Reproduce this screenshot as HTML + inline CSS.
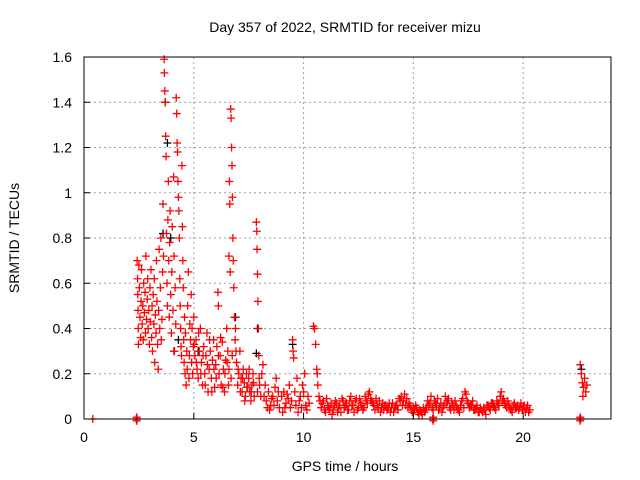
<!DOCTYPE html>
<html><head><meta charset="utf-8"><style>
body{margin:0;background:#fff;}
svg{display:block;font-family:"Liberation Sans",sans-serif;}
</style></head><body>
<svg id="chart" width="640" height="480" xmlns="http://www.w3.org/2000/svg">
<rect width="640" height="480" fill="#fff"/>
<g id="grid"></g>
<g id="marks"></g>
<rect x="84" y="57" width="527" height="362" fill="none" stroke="#000" stroke-width="1"/>
<g id="axes"></g>
<text x="345" y="32" text-anchor="middle" font-size="14">Day 357 of 2022, SRMTID for receiver mizu</text>
<text x="345" y="471" text-anchor="middle" font-size="14">GPS time / hours</text>
<text x="19" y="238" text-anchor="middle" font-size="14" transform="rotate(-90 19 238)">SRMTID / TECUs</text>
</svg>
<script>
const xTicks=[0,5,10,15,20];
const yTicks=[0,0.2,0.4,0.6,0.8,1,1.2,1.4,1.6];
const yTickLabels=["0","0.2","0.4","0.6","0.8","1","1.2","1.4","1.6"];
const blackTimes=[3.7,3.6,3.95,4.3,7.9,7.85,9.5,22.65,4.1,6.9,3.8,5.2];
const blackValues=[1.40,0.82,0.80,0.35,0.40,0.29,0.33,0.22,0.30,0.45,1.22,0.30];
const redTimes=[2.42,2.44,2.45,2.46,2.47,2.48,2.5,2.52,2.55,2.58,2.6,2.62,2.65,2.68,2.7,2.72,2.75,2.78,2.8,2.82,2.85,2.88,2.9,2.92,2.95,2.98,
3.0,3.02,3.05,3.08,3.1,3.12,3.15,3.18,3.2,3.22,3.25,3.28,3.3,3.32,3.35,3.38,3.4,3.42,3.45,3.48,3.5,3.52,3.55,3.58,
3.6,3.62,3.65,3.66,3.68,3.7,3.72,3.74,3.76,3.78,3.8,3.82,3.84,3.86,3.88,3.9,3.92,3.95,3.98,4.0,4.02,4.05,4.08,4.1,4.12,4.15,4.18,
4.2,4.22,4.24,4.26,4.28,4.3,4.32,4.34,4.36,4.38,4.4,4.42,4.44,4.46,4.48,4.5,4.52,4.54,4.56,4.58,
4.6,4.62,4.65,4.68,4.7,4.72,4.75,4.78,4.8,4.82,4.85,4.88,4.9,4.92,4.95,4.98,
5.0,5.05,5.1,5.15,5.2,5.25,5.3,5.35,5.4,5.45,5.5,5.55,5.6,5.65,5.7,5.75,5.8,5.85,5.9,5.95,6.0,6.05,6.1,6.12,6.15,6.2,6.25,6.3,6.35,6.4,6.45,
6.5,6.55,6.6,6.62,6.64,6.66,6.68,6.7,6.72,6.74,6.76,6.78,6.8,6.82,6.85,6.88,6.6,6.7,6.75,
6.9,6.95,7.0,7.05,7.1,7.15,7.2,7.25,7.3,7.35,7.4,7.45,7.5,7.55,7.6,7.65,7.7,7.75,
7.85,7.87,7.88,7.9,7.92,7.94,7.96,7.98,7.9,
8.0,8.1,8.2,8.3,8.4,8.5,8.6,8.7,8.8,8.9,9.0,9.1,9.2,9.3,9.4,8.15,8.45,8.75,9.05,9.35,
9.5,9.52,9.55,
9.6,9.7,9.8,9.9,10.0,10.1,10.2,9.75,9.95,10.05,
10.45,10.5,10.55,10.6,10.62,10.65,10.7,10.75,
10.8,11.0,11.2,11.4,11.6,11.8,12.0,12.2,12.4,12.6,12.8,13.0,13.1,13.2,13.4,13.6,13.8,14.0,14.2,14.4,14.6,14.7,14.8,15.0,15.2,15.4,15.6,15.8,16.0,16.2,16.4,16.6,16.8,17.0,17.2,17.4,17.6,17.8,18.0,18.2,18.4,18.6,18.8,19.0,19.1,19.2,19.4,19.6,19.8,20.0,20.2,20.3,
10.9,11.1,11.3,11.5,11.7,11.9,12.1,12.3,12.5,12.7,12.9,13.3,13.5,13.7,13.9,14.1,14.3,14.5,14.9,15.1,15.3,15.5,15.7,15.9,16.1,16.3,16.5,16.7,16.9,17.1,17.3,17.5,17.7,17.9,18.1,18.3,18.5,18.7,18.9,19.3,19.5,19.7,19.9,20.1,
22.6,22.65,22.7,22.75,22.8,22.85,22.9,22.72,
0.4,2.38,2.42,15.88,15.92,22.58,22.62,2.40,2.40,15.90,15.90,22.60,22.60];
const redValues=[0.70,0.62,0.55,0.48,0.40,0.33,0.68,0.58,0.45,0.36,0.52,0.66,0.42,0.50,0.35,0.60,0.47,0.56,0.38,0.72,0.44,0.53,0.62,0.40,0.48,0.33,
0.58,0.43,0.66,0.36,0.50,0.30,0.55,0.42,0.62,0.25,0.46,0.38,0.70,0.52,0.33,0.22,0.48,0.75,0.40,0.58,0.80,0.35,0.44,0.65,
0.95,0.72,1.59,1.53,1.45,1.40,1.25,1.16,0.82,0.60,0.50,0.88,1.05,0.70,0.45,0.78,0.92,0.55,0.38,0.65,0.85,0.48,1.07,0.72,0.30,0.58,0.42,
1.42,1.35,1.22,1.18,1.05,0.98,0.92,0.80,0.62,0.50,0.40,0.32,0.28,1.12,0.85,0.70,0.58,0.35,0.25,0.45,
0.20,0.38,0.15,0.30,0.22,0.50,0.65,0.18,0.28,0.42,0.35,0.55,0.25,0.40,0.20,0.32,
0.45,0.28,0.35,0.22,0.18,0.30,0.40,0.25,0.15,0.32,0.20,0.28,0.38,0.12,0.22,0.30,0.18,0.26,0.35,0.14,0.24,0.32,0.56,0.50,0.20,0.28,0.15,0.34,0.22,0.12,0.26,
0.40,0.30,0.72,1.05,0.95,0.65,1.37,1.33,1.20,1.12,0.98,0.80,0.70,0.58,0.45,0.35,0.22,0.18,0.28,
0.40,0.25,0.15,0.20,0.30,0.18,0.12,0.22,0.16,0.10,0.20,0.14,0.18,0.12,0.08,0.15,0.20,0.10,
0.87,0.83,0.75,0.64,0.52,0.40,0.28,0.18,0.12,
0.15,0.20,0.10,0.08,0.12,0.06,0.10,0.14,0.08,0.05,0.10,0.12,0.07,0.09,0.05,0.24,0.04,0.18,0.03,0.15,
0.35,0.30,0.27,
0.12,0.18,0.08,0.05,0.12,0.06,0.10,0.03,0.15,0.20,
0.41,0.40,0.33,0.22,0.20,0.15,0.10,0.08,
0.05,0.03,0.04,0.06,0.05,0.08,0.04,0.06,0.09,0.07,0.10,0.12,0.08,0.06,0.05,0.07,0.04,0.05,0.06,0.08,0.11,0.09,0.07,0.05,0.03,0.02,0.05,0.10,0.07,0.05,0.06,0.09,0.06,0.05,0.08,0.11,0.06,0.04,0.03,0.05,0.06,0.07,0.08,0.12,0.09,0.06,0.05,0.07,0.04,0.05,0.06,0.04,
0.08,0.06,0.02,0.07,0.03,0.06,0.08,0.03,0.05,0.04,0.07,0.09,0.03,0.06,0.07,0.03,0.04,0.06,0.04,0.06,0.04,0.03,0.06,0.04,0.09,0.03,0.07,0.04,0.08,0.03,0.05,0.07,0.08,0.06,0.04,0.02,0.04,0.05,0.06,0.08,0.03,0.05,0.07,0.03,
0.24,0.20,0.16,0.14,0.18,0.12,0.15,0.10,
0,0,0,0,0,0,0,0.008,-0.008,0.008,-0.008,0.008,-0.008];
const extraTimes=[10.85,10.95,11.05,11.15,11.25,11.35,11.45,11.55,11.65,11.75,11.85,11.95,12.05,12.15,12.25,12.35,12.45,12.55,12.65,12.75,12.85,12.95,13.05,13.15,13.25,13.35,13.45,13.55,13.65,13.75,13.85,13.95,14.05,14.15,14.25,14.35,14.45,14.55,14.65,14.75,14.85,14.95,15.05,15.15,15.25,15.35,15.45,15.55,15.65,15.75,15.85,15.95,16.05,16.15,16.25,16.35,16.45,16.55,16.65,16.75,16.85,16.95,17.05,17.15,17.25,17.35,17.45,17.55,17.65,17.75,17.85,17.95,18.05,18.15,18.25,18.35,18.45,18.55,18.65,18.75,18.85,18.95,19.05,19.15,19.25,19.35,19.45,19.55,19.65,19.75,19.85,19.95,20.05,20.15,20.25,
5.02,5.12,5.22,5.32,5.42,5.52,5.62,5.72,5.82,5.92,6.02,6.12,6.22,6.32,6.42,6.52,6.58,6.92,7.02,7.12,7.22,7.32,7.42,7.52,7.62,7.72,8.05,8.25,8.35,8.55,8.65,8.85,9.15,9.25,9.45,9.65,9.85,10.15,10.25];
const extraValues=[0.07,0.04,0.09,0.05,0.07,0.04,0.08,0.03,0.06,0.09,0.05,0.07,0.04,0.10,0.06,0.08,0.04,0.09,0.06,0.05,0.08,0.11,0.09,0.07,0.04,0.06,0.08,0.05,0.04,0.06,0.05,0.03,0.07,0.05,0.06,0.09,0.10,0.08,0.06,0.05,0.06,0.03,0.04,0.05,0.02,0.03,0.05,0.04,0.08,0.07,0.05,0.08,0.06,0.04,0.07,0.05,0.10,0.08,0.05,0.07,0.04,0.06,0.04,0.06,0.09,0.12,0.08,0.05,0.06,0.04,0.05,0.03,0.05,0.03,0.04,0.06,0.05,0.07,0.06,0.04,0.07,0.10,0.08,0.07,0.05,0.06,0.04,0.06,0.05,0.06,0.05,0.04,0.06,0.05,0.03,
0.33,0.25,0.38,0.20,0.28,0.15,0.24,0.35,0.12,0.22,0.18,0.28,0.36,0.14,0.20,0.25,0.15,0.30,0.22,0.12,0.18,0.08,0.14,0.22,0.12,0.16,0.10,0.15,0.05,0.09,0.06,0.12,0.05,0.11,0.08,0.06,0.10,0.04,0.07];
const X0=84,X1=611,Y0=419,Y1=57,XMAX=24,YMAX=1.6;
function xs(t){return X0+(X1-X0)*t/XMAX;}
function ys(v){return Y0-(Y0-Y1)*v/YMAX;}
const NS="http://www.w3.org/2000/svg";
const grid=document.getElementById('grid'),axes=document.getElementById('axes'),marks=document.getElementById('marks');
function mk(tag,attrs,parent){const e=document.createElementNS(NS,tag);for(const k in attrs)e.setAttribute(k,attrs[k]);parent.appendChild(e);return e;}
xTicks.forEach(t=>{
  const x=xs(t);
  if(t>0){const g=mk('line',{x1:x,x2:x,y1:Y0,y2:Y1,stroke:'#a0a0a0','stroke-dasharray':'2,3'},grid);
  
  }
  const tk=mk('line',{x1:x,x2:x,y1:Y0,y2:Y0-6,stroke:'#000'},axes);
  
  
  const tx=mk('text',{x:x,y:Y0+23,'text-anchor':'middle','font-size':'14'},axes);
  tx.textContent=String(t);
  
  
});
yTicks.forEach((v,i)=>{
  const y=ys(v);
  if(v>0&&v<YMAX){const g=mk('line',{x1:X0,x2:X1,y1:y,y2:y,stroke:'#a0a0a0','stroke-dasharray':'2,3'},grid);
  
  }
  const tk=mk('line',{x1:X0,x2:X0+6,y1:y,y2:y,stroke:'#000'},axes);
  
  
  const tx=mk('text',{x:72,y:y+5,'text-anchor':'end','font-size':'14'},axes);
  tx.textContent=yTickLabels[i];
  
  
});
function plus(t,v,color){
  const x=xs(t),y=ys(v);
  return mk('path',{d:`M${x-4},${y}H${x+4}M${x},${y-4}V${y+4}`,stroke:color,'stroke-width':'1.3',fill:'none'},marks);
}
blackTimes.forEach((t,i)=>{
  const p=plus(t,blackValues[i],'#000');
  
  
});
redTimes.forEach((t,i)=>{
  const p=plus(t,redValues[i],'#ff0000');
  
  
});
extraTimes.forEach((t,i)=>{
  const p=plus(t,extraValues[i],'#ff0000');
  
  
});
</script>
</body></html>
